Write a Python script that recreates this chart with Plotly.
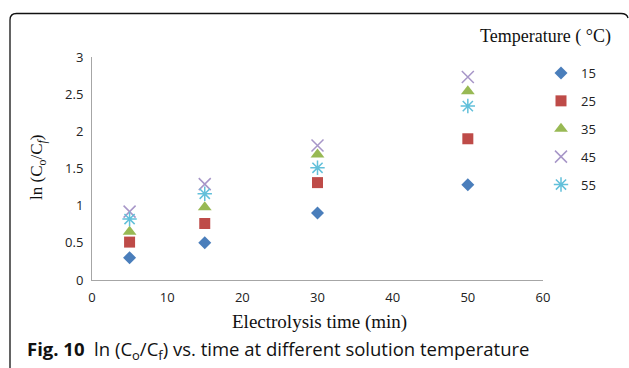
import plotly.graph_objects as go

time_min = [5, 15, 30, 50]
series_names = ["15", "25", "35", "45", "55"]
ln_15 = [0.30, 0.50, 0.90, 1.28]
ln_25 = [0.51, 0.76, 1.31, 1.90]
ln_35 = [0.65, 0.98, 1.69, 2.54]
ln_45 = [0.92, 1.29, 1.81, 2.73]
ln_55 = [0.82, 1.16, 1.51, 2.34]
x_ticks = [0, 10, 20, 30, 40, 50, 60]
y_ticks = [0, 0.5, 1, 1.5, 2, 2.5, 3]
y_tick_text = ["0", "0.5", "1", "1.5", "2", "2.5", "3"]

W, H = 629, 368
L, R, T, B = 92, 86, 57, 88
PW, PH = W - L - R, H - T - B

def px(x):
    return (x - L) / PW

def py(y):
    return (H - B - y) / PH

styles = [
    dict(symbol="diamond", color="#4a7ebb", size=10, line=dict(width=0)),
    dict(symbol="square", color="#be4b48", size=11, line=dict(width=0)),
    dict(symbol="triangle-up", color="#98b954", size=12, line=dict(width=0)),
    dict(symbol="x-thin-open", color="#a796c8", size=12, line=dict(width=1.5, color="#a796c8")),
    dict(symbol="asterisk-open", color="#62c0da", size=12, line=dict(width=1.5, color="#62c0da")),
]
values = [ln_15, ln_25, ln_35, ln_45, ln_55]

fig = go.Figure()
for name, vals, st in zip(series_names, values, styles):
    fig.add_trace(go.Scatter(x=time_min, y=vals, mode="markers", name=name,
                             legendgroup=name, marker=st))

sans = "Open Sans"
serif = "Liberation Serif"

fig.update_layout(
    width=W, height=H, autosize=False,
    margin=dict(l=L, r=R, t=T, b=B, pad=0),
    paper_bgcolor="white", plot_bgcolor="white",
    font=dict(family=sans, size=13, color="#222222"),
    xaxis=dict(range=[0, 60], tickvals=x_ticks, showline=True, linecolor="#a6a6a6",
               linewidth=1, showgrid=False, zeroline=False, ticks="", ticklen=0,
               ticklabelstandoff=5,
               tickfont=dict(family=sans, size=13, color="#222222")),
    yaxis=dict(range=[0, 3], tickvals=y_ticks, ticktext=y_tick_text, showline=True,
               linecolor="#a6a6a6", linewidth=1, showgrid=False, zeroline=False,
               ticks="", ticklen=0, ticklabelstandoff=5,
               tickfont=dict(family=sans, size=13, color="#222222")),
    showlegend=True,
    legend=dict(x=px(541), y=py(58), xanchor="left", yanchor="top",
                font=dict(family=sans, size=13, color="#222222"),
                tracegroupgap=8, itemwidth=30, bgcolor="rgba(0,0,0,0)"),
)

# frame around figure
path = (f"M {px(10)},{py(368)} L {px(10)},{py(20)} Q {px(10)},{py(13.5)} {px(16.5)},{py(13.5)} "
        f"L {px(621)},{py(13.5)} Q {px(627)},{py(13.5)} {px(628)},{py(18)}")
fig.add_shape(type="path", path=path, xref="paper", yref="paper",
              line=dict(color="#111111", width=1.3))

def note(text, x, y, size, family, xanchor="center", angle=0, color="#111111"):
    fig.add_annotation(text=text, x=px(x), y=py(y), xref="paper", yref="paper",
                       xanchor=xanchor, yanchor="middle", textangle=angle,
                       showarrow=False, font=dict(family=family, size=size, color=color))

note("Temperature ( °C)", 545, 37, 18, serif)
note("Electrolysis time (min)", 319, 322, 19, serif)
note("ln (C<sub>o</sub>/C<sub><i>f</i></sub>)", 38, 168, 17, serif, angle=-90)
note("<b>Fig. 10</b>  ln (C<sub>o</sub>/C<sub>f</sub>) vs. time at different solution temperature",
     25, 350, 18.5, sans, xanchor="left")

fig.write_html("out.html")
